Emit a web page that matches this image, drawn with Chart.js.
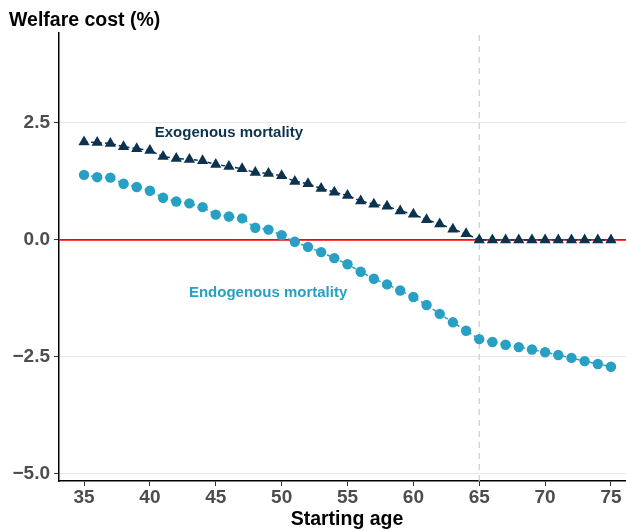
<!DOCTYPE html>
<html><head><meta charset="utf-8">
<script src="https://cdn.jsdelivr.net/npm/chart.js@4/dist/chart.umd.min.js"></script>
<style>html,body{margin:0;padding:0;background:#fff}#wrap{width:626px;height:531px;position:relative}</style>
</head><body><div id="wrap"><canvas id="c" width="626" height="531"></canvas></div>
<script>
const ages = [35,36,37,38,39,40,41,42,43,44,45,46,47,48,49,50,51,52,53,54,55,56,57,58,59,60,61,62,63,64,65,66,67,68,69,70,71,72,73,74,75];
const exogenous = [2.09,2.08,2.06,1.99,1.95,1.91,1.78,1.74,1.72,1.69,1.61,1.57,1.52,1.44,1.42,1.37,1.25,1.20,1.10,1.02,0.95,0.83,0.76,0.72,0.62,0.55,0.43,0.34,0.23,0.13,0,0,0,0,0,0,0,0,0,0,0];
const endogenous = [1.39,1.34,1.33,1.20,1.13,1.05,0.90,0.82,0.78,0.70,0.54,0.50,0.46,0.26,0.22,0.10,-0.04,-0.15,-0.26,-0.39,-0.52,-0.68,-0.83,-0.95,-1.08,-1.22,-1.39,-1.58,-1.76,-1.94,-2.12,-2.18,-2.24,-2.29,-2.34,-2.40,-2.46,-2.52,-2.59,-2.65,-2.71];
const xTicks = [35,40,45,50,55,60,65,70,75];
const yTicks = [-5,-2.5,0,2.5];
const retirementAge = 65;
const xRange = [33.1, 76.14];
const yRange = [-5.15, 4.42];
const seriesNames = ['Exogenous mortality','Endogenous mortality'];
const yTitle = 'Welfare cost (%)';
const xTitle = 'Starting age';

const NAVY = '#0b3350';
const TEAL = '#27a0c3';
const SANS = "'Liberation Sans',Arial,Helvetica,sans-serif";

const pts = arr => ages.map((a,i)=>({x:a,y:arr[i]}));

const textPlugin = {
  id:'texts',
  afterDraw(chart){
    const ctx = chart.ctx, xs = chart.scales.x, ys = chart.scales.y;
    ctx.save();
    ctx.textAlign='center'; ctx.textBaseline='middle';
    ctx.font = "bold 15px "+SANS;
    ctx.fillStyle = NAVY;
    ctx.fillText(seriesNames[0], xs.getPixelForValue(46.0), ys.getPixelForValue(2.28));
    ctx.fillStyle = TEAL;
    ctx.fillText(seriesNames[1], xs.getPixelForValue(48.97), ys.getPixelForValue(-1.13));
    ctx.fillStyle = '#000';
    ctx.textAlign='left'; ctx.textBaseline='alphabetic';
    ctx.font = "bold 19.5px "+SANS;
    ctx.fillText(yTitle, 9, 26);
    ctx.textAlign='center';
    ctx.font = "bold 19.5px "+SANS;
    ctx.fillText(xTitle, 347, 525);
    ctx.restore();
  }
};

new Chart(document.getElementById('c'), {
  type:'line',
  data:{
    datasets:[
      {data:pts(exogenous), borderColor:NAVY, backgroundColor:NAVY, borderWidth:1.5, borderDash:[4,3],
       pointStyle:'triangle', pointRadius:6.5, pointBorderWidth:0, tension:0},
      {data:pts(endogenous), borderColor:TEAL, backgroundColor:TEAL, borderWidth:1.5, borderDash:[4,3],
       pointStyle:'circle', pointRadius:5.2, pointBorderWidth:0, tension:0},
      {data:[{x:xRange[0],y:0},{x:xRange[1],y:0}], borderColor:'#ff0000', borderWidth:1.6, pointRadius:0},
      {data:[{x:retirementAge,y:yRange[0]},{x:retirementAge,y:yRange[1]}], borderColor:'#cfcfcf', borderWidth:1.3, borderDash:[6,5], pointRadius:0}
    ]
  },
  options:{
    responsive:false, animation:false,
    layout:{autoPadding:false, padding:{left:0,top:33,right:0,bottom:0}},
    plugins:{legend:{display:false}, tooltip:{enabled:false}, title:{display:false}},
    scales:{
      x:{type:'linear', min:xRange[0], max:xRange[1],
        afterBuildTicks(s){ s.ticks = xTicks.map(v=>({value:v})); },
        afterFit(s){ s.height = 50; },
        grid:{drawOnChartArea:false, drawTicks:true, tickLength:5, tickColor:'#333', tickWidth:1},
        border:{display:true, color:'#000', width:1.5},
        ticks:{color:'#4d4d4d', font:{family:SANS, size:19, weight:'bold'}, padding:0, maxRotation:0, autoSkip:false}
      },
      y:{type:'linear', min:yRange[0], max:yRange[1],
        afterBuildTicks(s){ s.ticks = yTicks.map(v=>({value:v})); },
        afterFit(s){ s.width = 59; },
        grid:{color:'#e6e6e6', lineWidth:1, drawTicks:true, tickLength:5, tickColor:'#333', tickWidth:1},
        border:{display:true, color:'#000', width:1.5},
        ticks:{color:'#4d4d4d', font:{family:SANS, size:19, weight:'bold'}, padding:4,
          callback:v=> (v<0?'\u2212':'') + Math.abs(v).toFixed(1)}
      }
    }
  },
  plugins:[textPlugin]
});
</script></body></html>
